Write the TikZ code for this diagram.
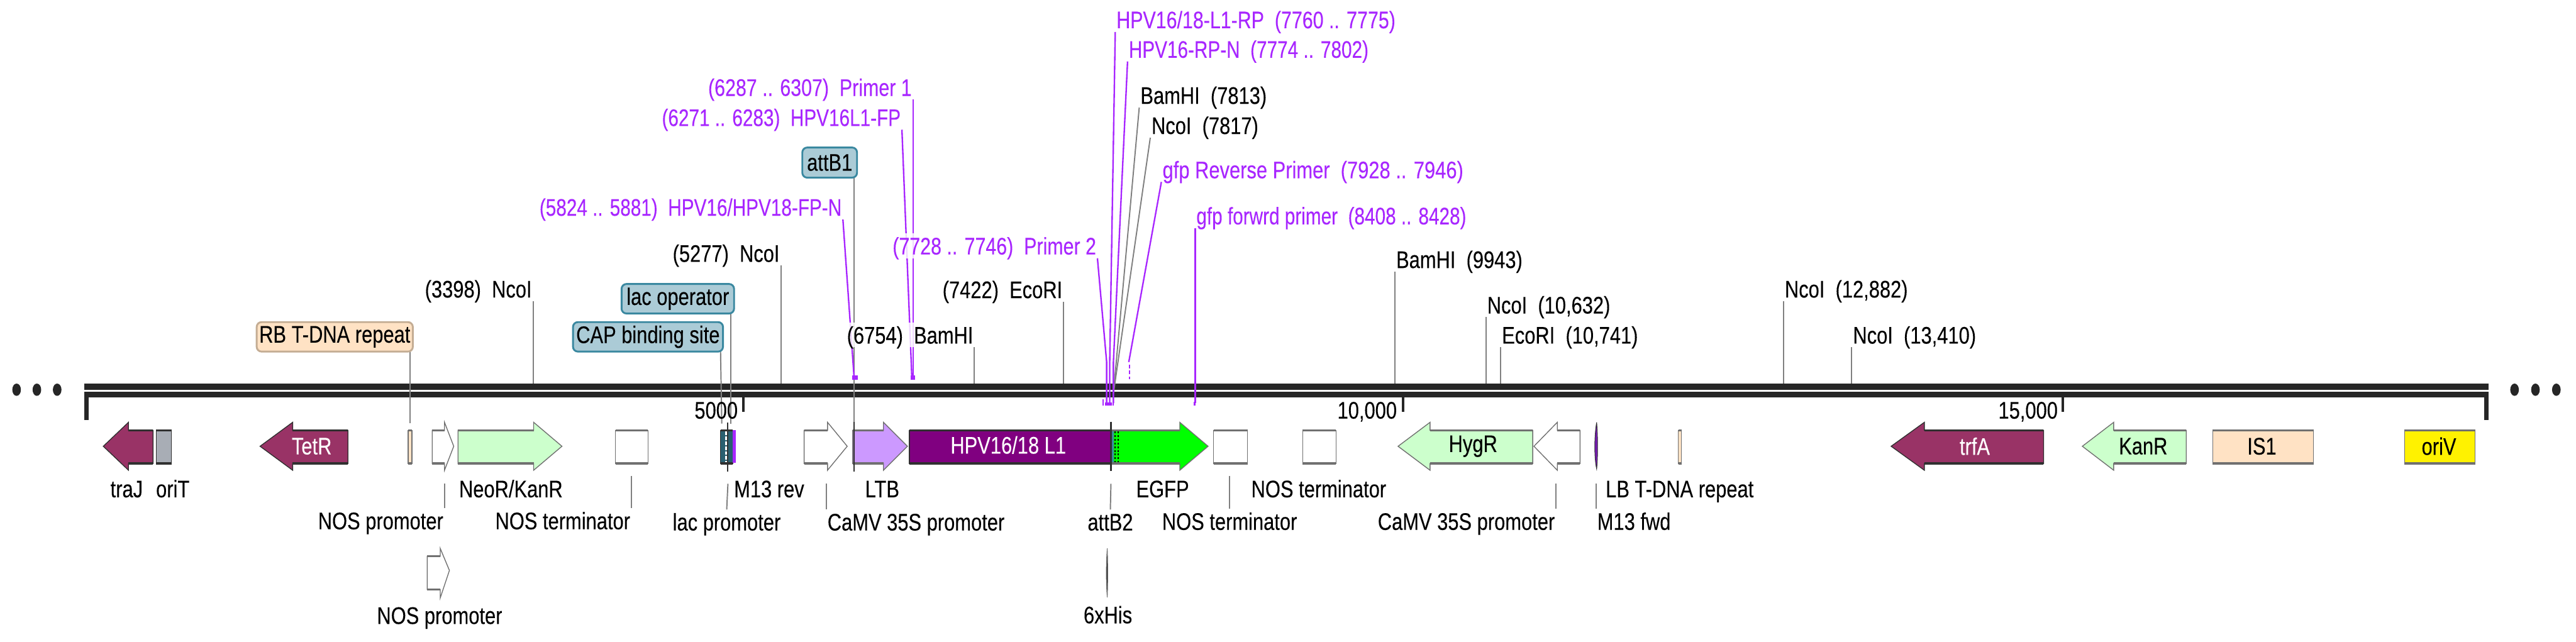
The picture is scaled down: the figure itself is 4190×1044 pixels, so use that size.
\documentclass[tikz,border=0pt]{standalone}
\usepackage{fontspec}
\setmainfont{Liberation Sans}[FakeStretch=0.81,FakeBold=0.15]
\newfontfamily\nfam{Liberation Sans}[FakeStretch=0.78,FakeBold=0.15]
\newfontfamily\mfam{Liberation Sans}[FakeStretch=0.797,FakeBold=0.15]
\pgfdeclarelayer{base}
\pgfdeclarelayer{wires}
\pgfsetlayers{base,wires,main}
\definecolor{barc}{HTML}{262626}
\definecolor{edgeg}{HTML}{707070}
\definecolor{edged}{HTML}{303030}
\definecolor{sitec}{HTML}{808080}
\definecolor{primc}{HTML}{A826FF}
\definecolor{maroon}{HTML}{993366}
\definecolor{mint}{HTML}{CCFFCC}
\definecolor{peach}{HTML}{FFE2C4}
\definecolor{peachd}{HTML}{C4AD94}
\definecolor{lilac}{HTML}{CC99FF}
\definecolor{hpv}{HTML}{800080}
\definecolor{gfpc}{HTML}{00FF00}
\definecolor{boxb}{HTML}{ABCBD6}
\definecolor{boxe}{HTML}{3A88A0}
\definecolor{greyf}{HTML}{A8ADB5}
\tikzset{
  x=0.5pt,y=-0.5pt,
  lbl/.style={inner xsep=1pt,inner ysep=0pt,outer sep=0pt,text height=17pt,text depth=3pt,
    font=\fontsize{19.5}{20}\selectfont,text=black},
  plbl/.style={lbl,text=primc},
  halo/.style={fill=white,fill opacity=.82,text opacity=1},
  inlbl/.style={inner sep=0pt,outer sep=0pt,font=\fontsize{19.5}{20}\selectfont},
  tagb/.style={inlbl,draw=boxe,fill=boxb,line width=1.5pt,rounded corners=4pt},
  tagp/.style={inlbl,draw=peachd,fill=peach,line width=1.5pt,rounded corners=4pt},
  site/.style={draw=sitec,line width=1pt},
  primer/.style={draw=primc,line width=1.2pt},
  darktick/.style={draw=edged,line width=1pt},
  scalet/.style={draw=barc,line width=2pt},
  ends/.style={fill=barc,draw=none},
  dotm/.style={fill=barc,draw=none},
  pmark/.style={fill=primc,draw=none}
}
% feature shapes: fill, edge, then the heavier horizontal edges of the shaft
\newcommand\rarr[5]{% left base tip fill edge
  \draw[fill=#4,draw=#5,line width=.7pt] (#1,700)--(#2,700)--(#2,687)--(#3,726)--(#2,765)--(#2,754)--(#1,754)--cycle;
  \draw[draw=#5,line width=1.7pt] (#1,700)--(#2,700) (#1,754)--(#2,754);}
\newcommand\larr[5]{% right base tip fill edge
  \draw[fill=#4,draw=#5,line width=.7pt] (#1,700)--(#2,700)--(#2,687)--(#3,726)--(#2,765)--(#2,754)--(#1,754)--cycle;
  \draw[draw=#5,line width=1.7pt] (#1,700)--(#2,700) (#1,754)--(#2,754);}
\newcommand\frect[4]{% left right fill edge
  \draw[fill=#3,draw=#4,line width=.7pt] (#1,700) rectangle (#2,754);
  \draw[draw=#4,line width=1.7pt] (#1,700)--(#2,700) (#1,754)--(#2,754);}
\newcommand\lab[6]{\node[#1,anchor=#2] (#3) at (#4,#5) {#6};}
\begin{document}
\begin{tikzpicture}
\useasboundingbox (0,0) rectangle (4190,1044);
\begin{pgfonlayer}{base}
\fill[white] (0,0) rectangle (4190,1044);
% backbone
\fill[barc] (137,624) rectangle (4048,634);
\fill[barc] (137,637) rectangle (4048,647);
\fill[ends] (137,647) rectangle (144,683);
\fill[ends] (4041,647) rectangle (4048,683);
\foreach \px in {27,60,93,4090,4124,4158} \fill[dotm] (\px,634) ellipse [x radius=7,y radius=10];
% scale ticks
\coordinate (sc5a) at (1209,647); \coordinate (sc5b) at (1209,670);
\coordinate (sc10a) at (2282,647); \coordinate (sc10b) at (2282,670);
\coordinate (sc15a) at (3355,647); \coordinate (sc15b) at (3355,670);
\draw[scalet] (sc5a)--(sc5b);
\draw[scalet] (sc10a)--(sc10b);
\draw[scalet] (sc15a)--(sc15b);
% features
\larr{249}{209}{168}{maroon}{edged}
\frect{254}{279}{greyf}{edged}
\larr{566}{476}{423}{maroon}{edged}
\frect{664}{670}{peach}{edgeg}
\rarr{703}{723}{738}{white}{edgeg}
\rarr{745}{868}{914}{mint}{edgeg}
\frect{1001}{1054}{white}{edgeg}
\draw[fill=white,draw=edgeg,line width=.7pt] (695,905)--(716,905)--(716,892)--(731,928)--(716,973)--(716,959)--(695,959)--cycle;
\draw[draw=edgeg,line width=1.7pt] (695,905)--(716,905) (695,959)--(716,959);
\frect{1172}{1192}{boxe!70!black}{edged}
\draw[white,line width=2.6pt,dash pattern=on 3pt off 1pt] (1182,702)--(1182,752);
\fill[primc] (1192,700) rectangle (1197,753);
\rarr{1308}{1346}{1378}{white}{edgeg}
\rarr{1387}{1437}{1476}{lilac}{edgeg}
\frect{1479}{1807}{hpv}{edged}
\rarr{1808}{1919}{1965}{gfpc}{edgeg}
\fill[boxe] (1808,702) rectangle (1812,752);
\draw[black,line width=1pt,dash pattern=on 1.5pt off 1.5pt] (1814,702)--(1814,752) (1819,702)--(1819,752);
\frect{1974}{2029}{white}{edgeg}
\frect{2119}{2173}{white}{edgeg}
\larr{2493}{2326}{2274}{mint}{edgeg}
\larr{2570}{2533}{2495}{white}{edgeg}
\draw[fill=primc!70!black,draw=edged,line width=.5pt] (2597,687) .. controls (2593,710) and (2593,745) .. (2597,763) .. controls (2599,745) and (2599,710) .. (2597,687);
\frect{2730}{2735}{peach}{edgeg}
\larr{3324}{3130}{3076}{maroon}{edged}
\larr{3556}{3438}{3387}{mint}{edgeg}
\frect{3599}{3763}{peach}{edgeg}
\frect{3911}{4026}{yellow}{edgeg}
\draw[fill=edged,draw=edgeg,line width=.5pt] (1801,892) .. controls (1799,915) and (1799,950) .. (1801,972) .. controls (1802,950) and (1802,915) .. (1801,892);
\end{pgfonlayer}

% top labels, left of their lines
\lab{lbl}{east}{s3398}{867}{470}{(3398)\ \ NcoI}
\lab{lbl}{east}{s5277}{1270}{412}{(5277)\ \ NcoI}
\lab{plbl}{east}{p5824}{1371}{337}{\nfam(5824 .. 5881)\ \ HPV16/HPV18-FP-N}
\lab{plbl}{east}{p6271}{1467}{191}{\nfam(6271 .. 6283)\ \ HPV16L1-FP}
\lab{plbl}{east}{p6287}{1485}{142}{\mfam(6287 .. 6307)\ \ Primer 1}
\lab{lbl,halo}{east}{s6754}{1585}{545}{(6754)\ \ BamHI}
\lab{lbl}{east}{s7422}{1730}{471}{(7422)\ \ EcoRI}
\lab{plbl,halo}{east}{p7728}{1785}{400}{\mfam(7728 .. 7746)\ \ Primer 2}
% top labels, right of their lines
\lab{plbl}{west}{p7760}{1814}{32}{\mfam HPV16/18-L1-RP\ \ (7760 .. 7775)}
\lab{plbl}{west}{p7774}{1834}{80}{\nfam HPV16-RP-N\ \ (7774 .. 7802)}
\lab{lbl}{west}{s7813}{1853}{155}{BamHI\ \ (7813)}
\lab{lbl}{west}{s7817}{1871}{204}{NcoI\ \ (7817)}
\lab{plbl}{west}{p7928}{1889}{276}{gfp Reverse Primer\ \ (7928 .. 7946)}
\lab{plbl}{west}{p8408}{1944}{351}{\nfam gfp forwrd primer\ \ (8408 .. 8428)}
\lab{lbl}{west}{s9943}{2269}{422}{BamHI\ \ (9943)}
\lab{lbl}{west}{s10632}{2417}{496}{NcoI\ \ (10,632)}
\lab{lbl}{west}{s10741}{2441}{545}{EcoRI\ \ (10,741)}
\lab{lbl}{west}{s12882}{2901}{470}{NcoI\ \ (12,882)}
\lab{lbl}{west}{s13410}{3012}{545}{NcoI\ \ (13,410)}
% tag boxes
\node[tagp,minimum width=127pt,minimum height=24pt] (rbtag) at (544.5,548) {RB T-DNA repeat};
\node[tagb,minimum width=122pt,minimum height=24pt] (captag) at (1054,548) {CAP binding site};
\node[tagb,minimum width=91.5pt,minimum height=24pt] (lactag) at (1102.5,486) {lac operator};
\node[tagb,minimum width=44.5pt,minimum height=24.5pt] (attb) at (1349.5,264.5) {attB1};
% scale labels
\lab{lbl}{east}{sc5}{1202}{667}{5000}
\lab{lbl}{east}{sc10}{2274}{667}{10,000}
\lab{lbl}{east}{sc15}{3349}{667}{15,000}
% inside-feature labels
\node[inlbl,text=white] (tetr) at (507,726) {TetR};
\node[inlbl,text=white] (l1) at (1640,724) {HPV16/18 L1};
\node[inlbl] (hygr) at (2396,726) {HygR};
\node[inlbl,text=white] (trfa) at (3212,726) {trfA};
\node[inlbl] (kanr) at (3486,726) {KanR};
\node[inlbl] (is1) at (3679,726) {IS1};
\node[inlbl] (oriv) at (3967,726) {oriV};
% labels under the features
\lab{lbl}{center}{traj}{206}{795}{traJ}
\lab{lbl}{center}{orit}{281}{795}{oriT}
\lab{lbl}{center}{neo}{831}{795}{NeoR/KanR}
\lab{lbl}{north east}{nosp1}{723}{827}{NOS promoter}
\lab{lbl}{north east}{nost1}{1027}{827}{NOS terminator}
\lab{lbl}{center}{nosp2}{715}{1001}{NOS promoter}
\lab{lbl}{center}{m13r}{1251}{795}{M13 rev}
\lab{lbl}{north}{lacp}{1182}{829}{lac promoter}
\lab{lbl}{north west}{cam1}{1344}{829}{CaMV 35S promoter}
\lab{lbl}{center}{ltb}{1435}{795}{LTB}
\lab{lbl}{north}{attc}{1806}{829}{attB2}
\lab{lbl}{center}{egfp}{1891}{795}{EGFP}
\lab{lbl}{north}{nost2}{2000}{828}{NOS terminator}
\lab{lbl}{center}{his}{1802}{1000}{6xHis}
\lab{lbl}{center}{nost3}{2145}{795}{NOS terminator}
\lab{lbl}{north east}{cam2}{2531}{828}{CaMV 35S promoter}
\lab{lbl}{center}{lbt}{2732}{795}{LB T-DNA repeat}
\lab{lbl}{north west}{m13f}{2596}{828}{M13 fwd}

% connector ends
\coordinate (es3398) at (867,624);
\coordinate (es5277) at (1270,624);
\coordinate (es6754) at (1585,624);
\coordinate (es7422) at (1730,624);
\coordinate (es7813) at (1811,640);
\coordinate (es7817) at (1811,640);
\coordinate (es9943) at (2269,624);
\coordinate (es10632) at (2417,624);
\coordinate (es10741) at (2441,624);
\coordinate (es12882) at (2901,624);
\coordinate (es13410) at (3012,624);
\coordinate (m5824) at (1389,611);
\coordinate (m6271) at (1483,611);
\coordinate (m6287) at (1485,611);
\coordinate (k7728) at (1800,589);
\coordinate (m7728) at (1800,656);
\coordinate (k7760) at (1805,589);
\coordinate (m7760) at (1805,656);
\coordinate (k7774) at (1811,589);
\coordinate (m7774) at (1811,656);
\coordinate (k7928) at (1836,589);
\coordinate (d7928a) at (1837,593);
\coordinate (d7928b) at (1837,617);
\coordinate (m8408) at (1944,656);
\coordinate (erb) at (667,688);
\coordinate (ecap) at (1174,689);
\coordinate (elac) at (1189,689);
\coordinate (eattb) at (1389,767);
\coordinate (tlacA) at (1184,767);
\coordinate (tlacB) at (1184,687);
\coordinate (tnp) at (723,787);
\coordinate (tnt1) at (1027,774);
\coordinate (tcam1) at (1344,787);
\coordinate (tatt) at (1807,787);
\coordinate (tnt2) at (2000,774);
\coordinate (tcam2) at (2531,787);
\coordinate (tm13) at (2596,787);
\coordinate (datta) at (1807,686);
\coordinate (dattb) at (1807,766);

\begin{pgfonlayer}{wires}
\draw[site] (s3398.south east) -- (es3398);
\draw[site] (s5277.south east) -- (es5277);
\draw[site] (s6754.south east) -- (es6754);
\draw[site] (s7422.south east) -- (es7422);
\draw[site] (s7813.south west) -- (es7813);
\draw[site] (s7817.south west) -- (es7817);
\draw[site] (s9943.south west) -- (es9943);
\draw[site] (s10632.south west) -- (es10632);
\draw[site] (s10741.south west) -- (es10741);
\draw[site] (s12882.south west) -- (es12882);
\draw[site] (s13410.south west) -- (es13410);
\draw[site] (erb |- rbtag.south) -- (erb);
\draw[site] (captag.south -| 1172,0) -- (ecap);
\draw[site] (elac |- lactag.south) -- (elac);
\draw[site] (eattb |- attb.south) -- (eattb);
\draw[site] (tnp) -- (nosp1.north east);
\draw[site] (tnt1) -- (nost1.north east);
\draw[site] (tlacA |- tcam1) -- (lacp.north);
\draw[site] (tcam1) -- (cam1.north west);
\draw[site] (tatt) -- (attc.north);
\draw[site] (tnt2) -- (nost2.north);
\draw[site] (tcam2) -- (cam2.north east);
\draw[site] (tm13) -- (m13f.north west);
\draw[darktick] (tlacB) -- (tlacA);
\draw[darktick] (eattb) -- (eattb |- datta);
\draw[draw=edged,line width=1.6pt] (datta) -- (dattb);
\draw[primer] (p5824.south east) -- (m5824);
\draw[primer] (p6271.south east) -- (m6271);
\draw[primer] (p6287.south east) -- (m6287);
\draw[primer] (p7728.south east) -- (k7728) -- (m7728);
\draw[primer] (p7760.south west) -- (k7760) -- (m7760);
\draw[primer] (p7774.south west) -- (k7774) -- (m7774);
\draw[primer] (p7928.south west) -- (k7928);
\draw[primer,dash pattern=on 3pt off 2pt] (d7928a) -- (d7928b);
\draw[primer] (p8408.south west) -- (m8408);
\fill[pmark] (1386,611) rectangle (1395,618);
\fill[pmark] (1481,611) rectangle (1488,618);
\fill[pmark] (1797,655) rectangle (1809,660);
\fill[pmark] (1793,650) rectangle (1795,660);
\fill[pmark] (1810,650) rectangle (1812,660);
\fill[pmark] (1942,654) rectangle (1945,660);
\end{pgfonlayer}
\end{tikzpicture}
\end{document}
